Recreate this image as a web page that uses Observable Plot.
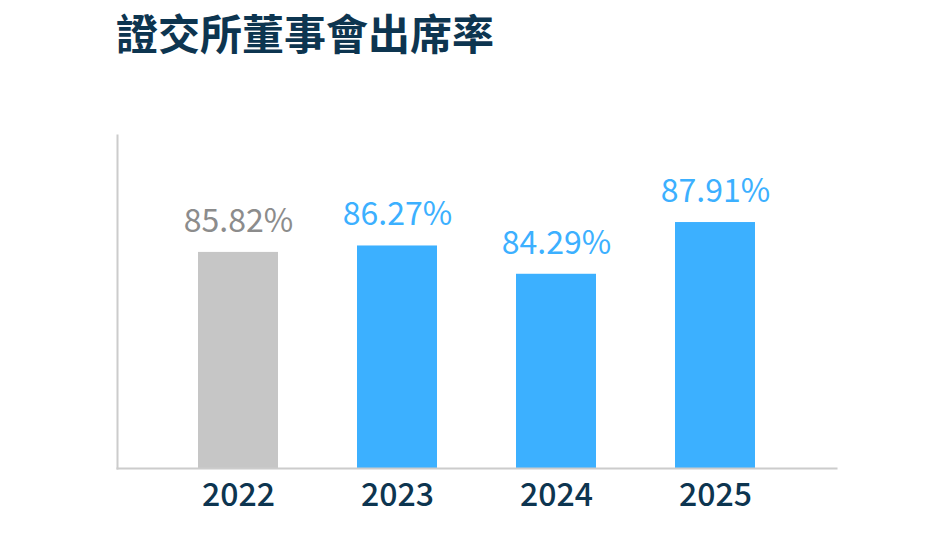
<!DOCTYPE html>
<html>
<head>
<meta charset="utf-8">
<script src="https://cdn.jsdelivr.net/npm/d3@7"></script>
<script src="https://cdn.jsdelivr.net/npm/@observablehq/plot@0.6"></script>
<style>
  html, body { margin: 0; padding: 0; background: #fff; }
  #wrap { width: 952px; height: 560px; position: relative; overflow: hidden; }
  #title { height: 80px; margin: 0; padding: 0; position: relative; }
  #title span {
    position: absolute; left: 116px; top: 11px;
    font-family: "Noto Sans CJK TC", sans-serif; font-weight: 700;
    font-size: 42px; line-height: 42px; color: #0d3550; white-space: nowrap;
  }
</style>
</head>
<body>
<div id="wrap">
  <div id="title"><span>證交所董事會出席率</span></div>
  <div id="chart"></div>
</div>
<script>
const years = ["2022", "2023", "2024", "2025"];
const rates = [85.82, 86.27, 84.29, 87.91];
const barColors = ["#c6c6c6", "#3cb0ff", "#3cb0ff", "#3cb0ff"];
const labelColors = ["#8c8c8c", "#3cb0ff", "#3cb0ff", "#3cb0ff"];
const yDomain = [70.7, 94];

const data = years.map((y, i) => ({year: y, value: rates[i], bar: barColors[i], label: labelColors[i]}));

const chart = Plot.plot({
  width: 952,
  height: 480,
  marginLeft: 117,
  marginRight: 116,
  marginTop: 55,
  marginBottom: 92,
  style: {fontFamily: "'Noto Sans CJK TC', sans-serif", background: "#fff", overflow: "visible"},
  x: {domain: years, padding: 0.5, label: null},
  y: {domain: yDomain, label: null, axis: null},
  marks: [
    Plot.barY(data, {x: "year", y1: yDomain[0], y2: "value", fill: d => d.bar}),
    Plot.frame({anchor: "left", stroke: "#cccccc", strokeWidth: 2}),
    Plot.frame({anchor: "bottom", stroke: "#cccccc", strokeWidth: 2}),
    Plot.text(data, {x: "year", y: "value", text: d => d.value.toFixed(2) + "%", dy: -31,
      fill: d => d.label, fontSize: 32, fontWeight: 400}),
    Plot.axisX({tickSize: 0, tickPadding: 15, fontSize: 32, fontWeight: 500, fill: "#0d3550", label: null})
  ]
});
document.getElementById("chart").appendChild(chart);
</script>
</body>
</html>
